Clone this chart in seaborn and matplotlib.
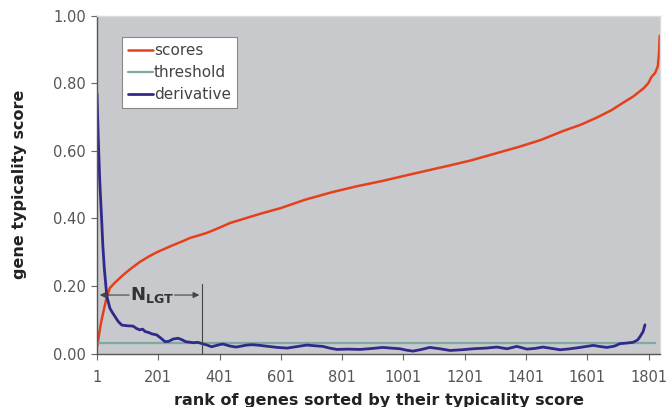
import matplotlib
matplotlib.use("Agg")
import matplotlib.pyplot as plt
import seaborn as sns
import pandas as pd

# ---- data ----
score_rank = [1, 5, 10, 15, 21, 26, 32, 43, 60, 86, 110, 141, 170, 197, 225, 250, 280, 305,
              335, 360, 400, 435, 478, 540, 600, 680, 771, 850, 930, 1010, 1087, 1150, 1220,
              1306, 1380, 1450, 1521, 1580, 1632, 1680, 1716, 1750, 1785, 1800, 1810, 1822,
              1831, 1835, 1837]
score_val = [0.02, 0.04, 0.07, 0.095, 0.12, 0.14, 0.164, 0.194, 0.21, 0.232, 0.25, 0.271, 0.287,
             0.30, 0.311, 0.321, 0.332, 0.342, 0.35, 0.357, 0.372, 0.386, 0.398, 0.415, 0.43,
             0.455, 0.478, 0.495, 0.51, 0.527, 0.543, 0.556, 0.571, 0.593, 0.612, 0.632, 0.658,
             0.677, 0.698, 0.72, 0.741, 0.76, 0.785, 0.80, 0.818, 0.83, 0.85, 0.89, 0.94]

deriv_rank = [1, 5, 10, 16, 20, 25, 33, 43, 52, 60, 70, 82, 100, 119, 130, 140, 150, 158, 170,
              180, 196, 210, 223, 235, 250, 266, 280, 290, 315, 330, 348, 360, 375, 400, 412,
              435, 455, 490, 510, 533, 560, 590, 621, 650, 686, 710, 738, 760, 784, 820, 859,
              900, 934, 960, 990, 1010, 1032, 1060, 1087, 1120, 1153, 1190, 1228, 1270, 1306,
              1339, 1371, 1404, 1430, 1456, 1485, 1512, 1545, 1577, 1620, 1640, 1665, 1690,
              1707, 1730, 1750, 1765, 1773, 1783, 1789]
deriv_val = [0.77, 0.64, 0.51, 0.40, 0.32, 0.25, 0.17, 0.134, 0.12, 0.109, 0.095, 0.084, 0.082,
             0.081, 0.074, 0.07, 0.072, 0.065, 0.062, 0.058, 0.055, 0.045, 0.035, 0.036, 0.043,
             0.045, 0.04, 0.035, 0.032, 0.033, 0.028, 0.025, 0.020, 0.026, 0.028, 0.022, 0.019,
             0.025, 0.026, 0.024, 0.021, 0.018, 0.016, 0.02, 0.025, 0.023, 0.021, 0.016, 0.012,
             0.013, 0.012, 0.015, 0.018, 0.016, 0.014, 0.01, 0.007, 0.012, 0.018, 0.014, 0.009,
             0.011, 0.014, 0.016, 0.019, 0.014, 0.021, 0.013, 0.015, 0.019, 0.015, 0.011, 0.014,
             0.018, 0.024, 0.021, 0.018, 0.022, 0.029, 0.031, 0.033, 0.04, 0.05, 0.065, 0.085]

threshold_rank = [1, 1822]
threshold_val = [0.03, 0.03]

nlgt_rank = 344
nlgt_height = 0.205
nlgt_arrow_y = 0.173

xtick_vals = [1, 201, 401, 601, 801, 1001, 1201, 1401, 1601, 1801]
ytick_vals = [0.0, 0.2, 0.4, 0.6, 0.8, 1.0]

# ---- styling ----
sns.set_theme(style="white")
plt.rcParams['font.family'] = ['DejaVu Sans']

RED = "#e5401c"
TEAL = "#7eaaa3"
NAVY = "#2f2a8a"
BG = "#c8c9cc"

fig = plt.figure(figsize=(6.66, 4.07), dpi=100)
ax = fig.add_axes([97/666, 1-353.5/407, (660-97)/666, (353.5-15.5)/407])
ax.set_facecolor(BG)

sns.lineplot(x=score_rank, y=score_val, ax=ax, color=RED, lw=1.8, label="scores")
sns.lineplot(x=threshold_rank, y=threshold_val, ax=ax, color=TEAL, lw=1.6, label="threshold")
sns.lineplot(x=deriv_rank, y=deriv_val, ax=ax, color=NAVY, lw=2.0, label="derivative")

ax.set_xlim(1, 1838)
ax.set_ylim(0, 1.0)
ax.set_xticks(xtick_vals)
ax.set_xticklabels([str(v) for v in xtick_vals])
ax.set_yticks(ytick_vals)
ax.set_yticklabels([f"{v:.2f}" for v in ytick_vals])
ax.tick_params(axis='both', which='major', direction='out', length=4, width=0.8,
               color="#666666", labelcolor="#555555", labelsize=10.5, pad=4,
               left=True, bottom=True)
ax.tick_params(axis='x', pad=8)

for side in ['left', 'bottom']:
    ax.spines[side].set_color("#555555")
    ax.spines[side].set_linewidth(1.0)
for side in ['top', 'right']:
    ax.spines[side].set_color("#dcdcdc")
    ax.spines[side].set_linewidth(1.0)

ax.set_xlabel("rank of genes sorted by their typicality score", fontsize=11.5,
              fontweight='bold', color="#222222", labelpad=6)
ax.set_ylabel("gene typicality score", fontsize=11.5, fontweight='bold',
              color="#222222", labelpad=19)

leg = ax.legend(loc='upper left', bbox_to_anchor=(25/563, 1-21.5/338), fontsize=11,
                frameon=True, fancybox=False, framealpha=1.0, handlelength=1.6,
                handletextpad=0.1, borderpad=0.4, labelspacing=0.45, borderaxespad=0)
leg.get_frame().set_facecolor("white")
leg.get_frame().set_edgecolor("#888888")
leg.get_frame().set_linewidth(0.8)
for t in leg.get_texts():
    t.set_color("#444444")

# N_LGT annotation
ax.plot([nlgt_rank, nlgt_rank], [0, nlgt_height], color="#444444", lw=0.8)
ax.annotate("", xy=(1, nlgt_arrow_y), xytext=(115, nlgt_arrow_y),
            arrowprops=dict(arrowstyle='-|>', color="#444444", lw=0.8, mutation_scale=9))
ax.annotate("", xy=(nlgt_rank, nlgt_arrow_y), xytext=(245, nlgt_arrow_y),
            arrowprops=dict(arrowstyle='-|>', color="#444444", lw=0.8, mutation_scale=9))
ax.text(182, nlgt_arrow_y, r"$\mathbf{N}_{\mathbf{LGT}}$", fontsize=13, color="#333333",
        ha='center', va='center')

fig.savefig("out.png", dpi=100)
